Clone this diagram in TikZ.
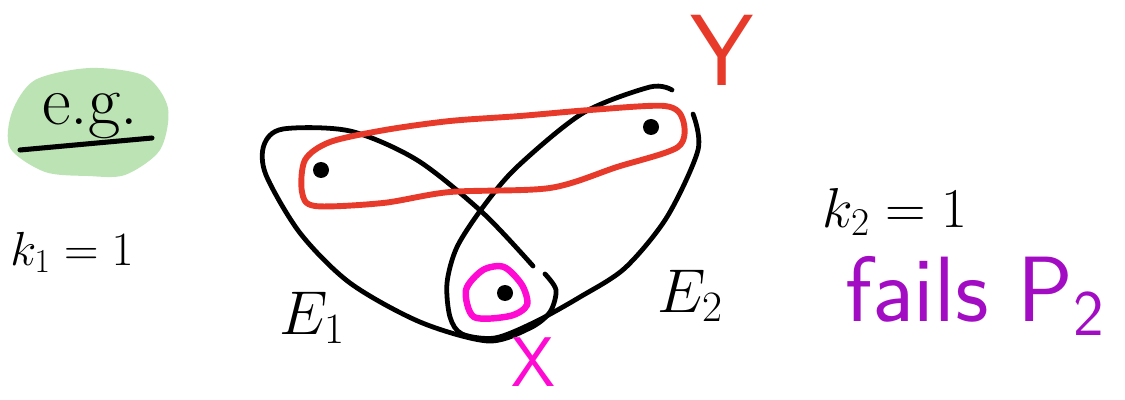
\RequirePackage{fix-cm}
\documentclass[tikz,border=0pt]{standalone}
\usepackage{tikz}
\usetikzlibrary{positioning}
\definecolor{EgGreen}{HTML}{BCE3B4}
\definecolor{YRed}{HTML}{E83A2A}
\definecolor{XPink}{HTML}{FF0AD2}
\definecolor{FailPurple}{HTML}{A20DC4}

\begin{document}
\begin{tikzpicture}[
			x=0.025cm, y=-0.025cm,
			line cap=round, line join=round
			]
			\useasboundingbox (0,0) rectangle (1125,400);
			
			% e.g. blob
			\fill[EgGreen] plot[smooth cycle] coordinates {
				(12,112) (35,80) (90,68) (145,76) (168,108)
				(160,150) (125,175) (88,176) (45,172) (10,148)};
			\node[
			font=\fontsize{50}{50}\selectfont,
			inner sep=0pt
			]
			(eg) at (90,116)
			{e.g.};
			\draw[line width=3.6pt] (20,150) -- (152,138);
			
			% k1
			\node[
			font=\fontsize{34}{34}\selectfont,
			inner sep=0pt
			]
			(kone) at (72,252)
			{$k_1 = 1$};
			
			% E1
			\draw[line width=3.4pt] plot[smooth] coordinates {
				(533,266) (483,213) (417,160) (350,131) (283,129)
				(264,145) (266,175) (300,233) (350,283) (420,322)
				(488,341) (530,328) (550,312) (556,290) (545,274)};
			
			% E2
			\draw[line width=3.4pt] plot[smooth] coordinates {
				(672,90) (650,87) (583,113) (517,167) (483,207)
				(457,247) (447,283) (450,317) (462,334) (495,338)
				(535,322) (580,297) (625,268) (667,217) (698,150)
				(693,114)};
			
			% Y edge
			\draw[YRed, line width=4.2pt] plot[smooth cycle] coordinates {
				(305,160) (330,142) (385,130) (450,121) (520,116)
				(590,110) (665,106) (683,120) (678,147) (617,167)
				(550,188) (450,192) (383,203) (315,206) (302,192)};
			
			% vertices
			\fill (321,170) circle (8);
			\fill (651,127) circle (8);
			\fill (505,293) circle (8);
			
			% X edge
			\draw[XPink, line width=4.6pt] plot[smooth cycle] coordinates {
				(466,290) (483,270) (504,267) (522,285) (527,305)
				(510,316) (474,317)};
			
			% labels
			\node[
			font=\fontsize{44}{44}\selectfont,
			inner sep=0pt
			]
			(eone) at (312,318)
			{$E_1$};
			\node[
			font=\fontsize{44}{44}\selectfont,
			inner sep=0pt
			]
			(etwo) at (690,296)
			{$E_2$};
			\node[
			text=YRed,
			font=\sffamily\fontsize{72}{72}\selectfont,
			inner sep=0pt
			]
			(ylab) at (722,50)
			{Y};
			\node[
			text=XPink,
			font=\sffamily\fontsize{50}{50}\selectfont,
			inner sep=0pt
			]
			(xlab) at (533,362)
			{X};
			
			% k2
			\node[
			font=\fontsize{40}{40}\selectfont,
			inner sep=0pt
			]
			(ktwo) at (895,212)
			{$k_2 = 1$};
			
			% fails P2
			\node[
			text=FailPurple,
			font=\sffamily\fontsize{66}{66}\selectfont,
			inner sep=0pt
			]
			(fails) at (975,296)
			{fails P\textsubscript{2}};
			
		\end{tikzpicture}
\end{document}
